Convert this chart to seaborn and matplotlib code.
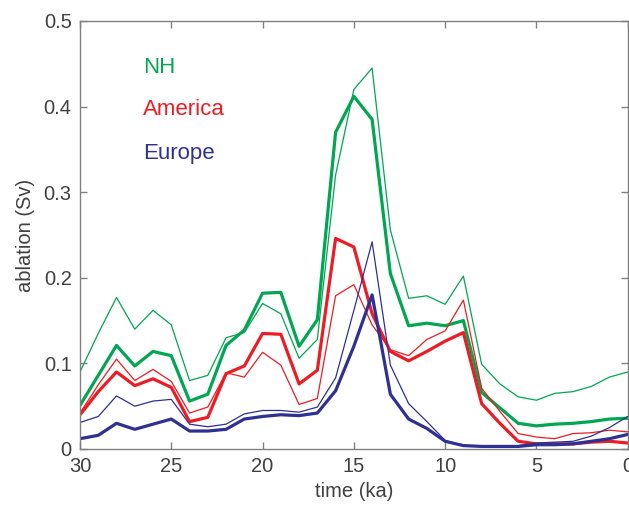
import numpy as np
import pandas as pd
import matplotlib
matplotlib.use("Agg")
import matplotlib.pyplot as plt
import seaborn as sns

# time axis (ka), 30 ka to present at 1 ka steps
time_ka = list(range(30, -1, -1))

# ablation (Sv) per region; thick = main run, thin = alternative run
nh_main = [0.051, 0.086, 0.121, 0.097, 0.114, 0.109, 0.056, 0.064, 0.121, 0.139,
           0.182, 0.183, 0.120, 0.151, 0.370, 0.412, 0.385, 0.205, 0.144, 0.147,
           0.144, 0.150, 0.066, 0.048, 0.030, 0.027, 0.029, 0.030, 0.032, 0.035, 0.036]
nh_alt = [0.090, 0.135, 0.177, 0.140, 0.162, 0.145, 0.080, 0.086, 0.130, 0.136,
          0.170, 0.158, 0.106, 0.128, 0.320, 0.420, 0.445, 0.256, 0.176, 0.179,
          0.169, 0.202, 0.099, 0.076, 0.061, 0.057, 0.065, 0.067, 0.073, 0.084, 0.090]
america_main = [0.040, 0.067, 0.090, 0.074, 0.082, 0.072, 0.032, 0.037, 0.088, 0.097,
                0.135, 0.134, 0.076, 0.092, 0.246, 0.236, 0.158, 0.114, 0.103, 0.114,
                0.126, 0.136, 0.053, 0.030, 0.009, 0.006, 0.006, 0.006, 0.008, 0.009, 0.007]
america_alt = [0.042, 0.075, 0.105, 0.080, 0.093, 0.079, 0.042, 0.049, 0.089, 0.084,
               0.113, 0.098, 0.052, 0.059, 0.179, 0.192, 0.145, 0.116, 0.109, 0.128,
               0.138, 0.174, 0.071, 0.044, 0.018, 0.014, 0.012, 0.018, 0.019, 0.022, 0.020]
europe_main = [0.012, 0.016, 0.030, 0.023, 0.029, 0.035, 0.021, 0.021, 0.023, 0.035,
               0.038, 0.040, 0.039, 0.042, 0.068, 0.120, 0.180, 0.064, 0.035, 0.024,
               0.009, 0.004, 0.003, 0.003, 0.003, 0.005, 0.005, 0.006, 0.009, 0.012, 0.017]
europe_alt = [0.031, 0.038, 0.062, 0.050, 0.056, 0.058, 0.029, 0.026, 0.029, 0.041,
              0.045, 0.045, 0.043, 0.049, 0.083, 0.162, 0.242, 0.098, 0.053, 0.032,
              0.010, 0.004, 0.003, 0.003, 0.004, 0.007, 0.008, 0.009, 0.015, 0.025, 0.038]

regions = ["NH", "America", "Europe"]
colors = {"NH": "#00a651", "America": "#ed1c24", "Europe": "#2e3192"}

series = {
    ("NH", "alt"): nh_alt, ("NH", "main"): nh_main,
    ("America", "alt"): america_alt, ("America", "main"): america_main,
    ("Europe", "alt"): europe_alt, ("Europe", "main"): europe_main,
}

rows = []
for (region, run), vals in series.items():
    for t, v in zip(time_ka, vals):
        rows.append({"time": t, "ablation": v, "region": region, "run": run})
df = pd.DataFrame(rows)

sns.set_theme(style="white")
plt.rcParams["font.family"] = ["Liberation Sans", "DejaVu Sans"]

fig = plt.figure(figsize=(6.29, 5.08), dpi=100)
ax = fig.add_axes([80 / 629, (508 - 449) / 508, 547.7 / 629, 428 / 508])

for region in ["NH", "America", "Europe"]:
    for run, lw in [("alt", 0.9), ("main", 2.3)]:
        sub = df[(df.region == region) & (df.run == run)]
        sns.lineplot(data=sub, x="time", y="ablation", ax=ax,
                     color=colors[region], linewidth=lw, legend=False,
                     estimator=None, sort=False)

ax.set_xlim(30, 0)
ax.set_ylim(0, 0.5)
ax.set_xticks([30, 25, 20, 15, 10, 5, 0])
ax.set_xticklabels(["30", "25", "20", "15", "10", "5", "0"])
ax.set_yticks([0, 0.1, 0.2, 0.3, 0.4, 0.5])
ax.set_yticklabels(["0", "0.1", "0.2", "0.3", "0.4", "0.5"])

text_col = "#404040"
ax.tick_params(direction="in", length=5, width=1, color="#808080",
               labelsize=14.5, labelcolor=text_col, top=True, right=True,
               bottom=True, left=True, pad=6)
for s in ax.spines.values():
    s.set_color("#808080")
    s.set_linewidth(1.0)

ax.set_xlabel("time (ka)", fontsize=14.5, color=text_col, labelpad=4)
ax.set_ylabel("ablation (Sv)", fontsize=14.5, color=text_col, labelpad=6)

for region, yv in zip(regions, [0.446, 0.397, 0.345]):
    ax.text(26.55, yv, region, color=colors[region], fontsize=16,
            ha="left", va="center")

fig.savefig("out.png", dpi=100)
